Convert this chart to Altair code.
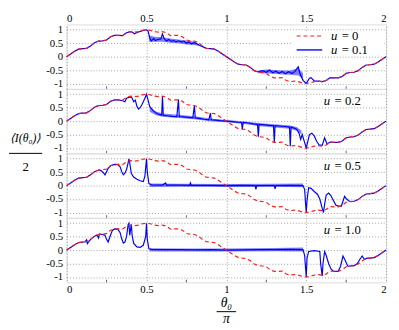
import altair as alt
import pandas as pd

# ---------------- data ----------------
red_theta = [round(i * 0.025, 3) for i in range(81)]
red_vals = [0.00, 0.10, 0.20, 0.28, 0.30, 0.31, 0.40, 0.52, 0.58, 0.59,
            0.62, 0.74, 0.79, 0.79, 0.78, 0.89, 0.93, 0.91, 0.93, 0.98,
            1.00, 0.98, 0.93, 0.91, 0.93, 0.89, 0.78, 0.79, 0.79, 0.74,
            0.62, 0.59, 0.58, 0.52, 0.40, 0.31, 0.30, 0.28, 0.20, 0.10,
            0.00, -0.10, -0.20, -0.28, -0.30, -0.31, -0.40, -0.52, -0.58, -0.59,
            -0.62, -0.74, -0.79, -0.79, -0.78, -0.89, -0.93, -0.91, -0.93, -0.98,
            -1.00, -0.98, -0.93, -0.91, -0.93, -0.89, -0.78, -0.79, -0.79, -0.74,
            -0.62, -0.59, -0.58, -0.52, -0.40, -0.31, -0.30, -0.28, -0.20, -0.10,
            0.00]

blue_u01 = [(0, 0), (0.025, 0.10), (0.05, 0.20), (0.075, 0.28), (0.1, 0.30), (0.125, 0.31),
            (0.15, 0.40), (0.175, 0.52), (0.2, 0.58), (0.225, 0.59), (0.25, 0.62), (0.275, 0.74),
            (0.3, 0.79), (0.325, 0.79), (0.35, 0.78), (0.375, 0.89), (0.4, 0.93), (0.41, 0.92),
            (0.425, 0.85), (0.435, 0.88), (0.45, 0.92), (0.475, 0.97), (0.5, 1.0), (0.51, 0.95),
            (0.52, 0.70), (0.53, 0.58), (0.545, 0.68), (0.555, 0.60), (0.57, 0.64), (0.59, 0.66),
            (0.6, 0.85), (0.61, 0.68), (0.625, 0.58), (0.64, 0.64), (0.655, 0.57), (0.67, 0.60),
            (0.685, 0.55), (0.7, 0.59), (0.72, 0.54), (0.735, 0.58), (0.75, 0.50), (0.765, 0.55),
            (0.78, 0.48), (0.8, 0.52), (0.82, 0.46), (0.84, 0.40), (0.875, 0.31),
            (0.9, 0.30), (0.925, 0.28), (0.95, 0.20), (0.975, 0.10), (1.0, 0.0), (1.025, -0.10),
            (1.05, -0.20), (1.075, -0.28), (1.1, -0.30), (1.125, -0.31), (1.15, -0.40),
            (1.175, -0.52), (1.2, -0.57), (1.225, -0.52), (1.25, -0.58), (1.27, -0.50),
            (1.29, -0.60), (1.31, -0.54), (1.33, -0.62), (1.35, -0.55), (1.37, -0.64),
            (1.39, -0.56), (1.41, -0.63), (1.43, -0.55), (1.44, -0.45), (1.45, -0.38),
            (1.46, -0.62), (1.48, -0.88), (1.5, -1.0), (1.52, -0.80),
            (1.53, -0.78), (1.55, -0.90), (1.575, -0.91), (1.6, -0.93), (1.625, -0.89),
            (1.65, -0.78), (1.675, -0.79), (1.7, -0.79), (1.725, -0.74), (1.75, -0.62),
            (1.775, -0.59), (1.8, -0.58), (1.825, -0.52), (1.85, -0.40), (1.875, -0.31),
            (1.9, -0.30), (1.925, -0.28), (1.95, -0.20), (1.975, -0.10), (2.0, 0.0)]

blue_u02 = [(0, 0), (0.025, 0.10), (0.05, 0.20), (0.075, 0.28), (0.1, 0.30), (0.125, 0.31),
            (0.15, 0.40), (0.175, 0.52), (0.2, 0.58), (0.225, 0.59), (0.25, 0.62), (0.275, 0.74),
            (0.3, 0.79), (0.325, 0.79), (0.35, 0.76), (0.365, 0.72), (0.375, 0.85), (0.4, 0.90),
            (0.41, 0.86), (0.42, 0.72), (0.43, 0.78), (0.44, 0.55), (0.45, 0.45), (0.46, 0.50),
            (0.47, 0.60), (0.48, 0.72), (0.49, 0.85), (0.5, 1.0), (0.51, 0.78), (0.52, 0.55),
            (0.54, 0.40), (0.56, 0.30), (0.58, 0.25), (0.595, 0.22), (0.6, 0.93), (0.605, 0.22),
            (0.63, 0.20), (0.66, 0.18), (0.69, 0.17), (0.7, 0.80), (0.705, 0.17), (0.73, 0.16),
            (0.76, 0.14), (0.79, 0.12), (0.8, 0.58), (0.805, 0.12), (0.83, 0.10), (0.86, 0.07),
            (0.89, 0.05), (0.9, 0.30), (0.905, 0.05), (0.93, 0.04), (0.96, 0.02), (1.0, 0.0),
            (1.04, -0.02), (1.07, -0.04), (1.095, -0.05), (1.1, -0.30), (1.105, -0.05),
            (1.14, -0.07), (1.17, -0.10), (1.195, -0.12), (1.2, -0.58), (1.205, -0.12),
            (1.24, -0.14), (1.27, -0.16), (1.295, -0.17), (1.3, -0.79), (1.305, -0.17),
            (1.33, -0.18), (1.37, -0.20), (1.395, -0.22), (1.4, -0.93), (1.405, -0.22),
            (1.42, -0.25), (1.44, -0.30), (1.455, -0.45), (1.465, -0.68), (1.475, -0.50),
            (1.49, -0.80), (1.5, -1.0), (1.51, -0.75), (1.52, -0.50), (1.535, -0.45),
            (1.55, -0.55), (1.565, -0.75), (1.58, -0.88), (1.6, -0.90), (1.615, -0.62),
            (1.63, -0.85), (1.65, -0.78), (1.675, -0.79), (1.7, -0.79), (1.725, -0.74),
            (1.75, -0.62), (1.775, -0.59), (1.8, -0.58), (1.825, -0.52), (1.85, -0.40),
            (1.875, -0.31), (1.9, -0.30), (1.925, -0.28), (1.95, -0.20), (1.975, -0.10), (2.0, 0.0)]

blue_u05 = [(0, 0), (0.025, 0.10), (0.05, 0.20), (0.075, 0.28), (0.1, 0.30), (0.125, 0.31),
            (0.15, 0.40), (0.175, 0.52), (0.2, 0.58), (0.215, 0.56), (0.23, 0.48), (0.24, 0.40),
            (0.25, 0.52), (0.26, 0.64), (0.275, 0.74), (0.3, 0.79), (0.32, 0.78), (0.335, 0.70),
            (0.345, 0.52), (0.355, 0.40), (0.365, 0.46), (0.375, 0.60), (0.385, 0.85), (0.39, 1.0),
            (0.395, 0.85), (0.405, 0.45), (0.42, 0.32), (0.44, 0.24), (0.46, 0.18), (0.48, 0.15),
            (0.49, 0.35), (0.5, 1.0), (0.505, 0.5), (0.515, 0.08), (0.53, 0.03), (0.6, 0.02),
            (0.62, 0.10), (0.625, 0.02), (0.7, 0.02), (0.77, 0.01), (0.775, 0.10), (0.78, 0.01),
            (0.9, 0.01), (1.0, 0.0), (1.1, 0.01), (1.18, 0.0), (1.185, -0.14), (1.19, 0.0),
            (1.3, 0.0), (1.305, -0.12), (1.31, 0.0), (1.4, 0.01), (1.48, 0.0), (1.49, -0.15),
            (1.495, -0.6), (1.5, -1.0), (1.505, -0.55), (1.515, -0.08), (1.53, -0.10),
            (1.55, -0.22), (1.57, -0.32), (1.585, -0.5), (1.6, -0.85), (1.608, -1.0),
            (1.615, -0.7), (1.625, -0.35), (1.64, -0.28), (1.655, -0.38), (1.67, -0.55),
            (1.685, -0.72), (1.7, -0.76), (1.72, -0.76), (1.73, -0.58), (1.74, -0.40),
            (1.75, -0.48), (1.765, -0.56), (1.78, -0.60), (1.8, -0.58), (1.825, -0.52),
            (1.85, -0.40), (1.875, -0.31), (1.9, -0.30), (1.925, -0.28), (1.95, -0.20),
            (1.975, -0.10), (2.0, 0.0)]

blue_u10 = [(0, 0), (0.025, 0.10), (0.05, 0.20), (0.075, 0.28), (0.1, 0.30), (0.115, 0.31),
            (0.125, 0.38), (0.13, 0.24), (0.14, 0.32), (0.15, 0.40), (0.175, 0.52), (0.19, 0.56),
            (0.2, 0.45), (0.205, 0.60), (0.225, 0.58), (0.24, 0.55), (0.25, 0.40), (0.26, 0.30),
            (0.27, 0.48), (0.285, 0.72), (0.3, 0.79), (0.32, 0.78), (0.335, 0.65), (0.345, 0.42),
            (0.355, 0.26), (0.365, 0.30), (0.375, 0.50), (0.385, 0.95), (0.39, 1.0), (0.395, 0.55),
            (0.405, 0.96), (0.41, 0.55), (0.42, 0.25), (0.44, 0.12), (0.46, 0.10), (0.48, 0.18),
            (0.495, 0.50), (0.5, 1.0), (0.505, 0.40), (0.515, 0.05), (0.53, 0.03), (0.6, 0.02),
            (0.7, 0.02), (0.8, 0.01), (0.9, 0.02), (1.0, 0.0), (1.1, 0.01), (1.2, 0.02),
            (1.3, 0.02), (1.4, 0.03), (1.48, 0.02), (1.49, -0.2), (1.5, -1.0), (1.505, -0.3),
            (1.515, -0.05), (1.55, -0.02), (1.585, -0.05), (1.59, -0.5), (1.6, -0.96),
            (1.605, -0.5), (1.615, -0.06), (1.625, -0.2), (1.64, -0.5), (1.655, -0.70),
            (1.67, -0.78), (1.7, -0.79), (1.715, -0.60), (1.73, -0.22), (1.745, -0.40),
            (1.76, -0.60), (1.8, -0.58), (1.82, -0.50), (1.835, -0.35), (1.85, -0.22),
            (1.865, -0.35), (1.88, -0.30), (1.9, -0.30), (1.925, -0.28), (1.95, -0.20),
            (1.975, -0.10), (2.0, 0.0)]

# noise envelopes of the blue curves: (segment, theta, low, high)
noise_u01 = [(1, 0.515, 0.55, 0.80), (1, 0.55, 0.55, 0.74), (1, 0.6, 0.55, 0.72),
             (1, 0.65, 0.52, 0.68), (1, 0.7, 0.50, 0.64), (1, 0.75, 0.45, 0.60),
             (1, 0.8, 0.43, 0.56), (1, 0.83, 0.40, 0.46),
             (2, 1.2, -0.62, -0.52), (2, 1.25, -0.63, -0.48), (2, 1.3, -0.64, -0.50),
             (2, 1.35, -0.66, -0.52), (2, 1.4, -0.67, -0.52), (2, 1.45, -0.70, -0.42),
             (2, 1.48, -0.82, -0.62)]
noise_u02 = [(1, 0.52, 0.35, 0.52), (1, 0.56, 0.22, 0.36), (1, 0.6, 0.16, 0.28),
             (1, 0.7, 0.12, 0.24), (1, 0.8, 0.07, 0.18), (1, 0.9, 0.0, 0.10),
             (1, 1.0, -0.04, 0.04), (1, 1.1, -0.10, 0.0), (1, 1.2, -0.18, -0.07),
             (1, 1.3, -0.24, -0.12), (1, 1.4, -0.28, -0.16), (1, 1.44, -0.36, -0.22),
             (1, 1.47, -0.50, -0.35)]
noise_u05 = [(1, 0.52, -0.05, 0.08), (1, 0.7, -0.04, 0.07), (1, 1.0, -0.05, 0.06),
             (1, 1.3, -0.04, 0.07), (1, 1.48, -0.06, 0.08)]
noise_u10 = [(1, 0.52, -0.05, 0.07), (1, 0.7, -0.05, 0.06), (1, 1.0, -0.05, 0.06),
             (1, 1.3, -0.04, 0.08), (1, 1.48, -0.05, 0.10)]

u_labels = ["0.1", "0.2", "0.5", "1.0"]
x_ticks = [0, 0.5, 1, 1.5, 2]
y_ticks = [-1, -0.5, 0, 0.5, 1]
minor_ticks = [0.25, 0.75, 1.25, 1.75]

# ---------------- chart ----------------
W, H = 327, 66
FONT = "Liberation Serif"
RED, BLUE = "#ff1a1a", "#0000ff"
xs = alt.Scale(domain=[0, 2], nice=False, zero=False)
ys = alt.Scale(domain=[-1.2, 1.2], nice=False, zero=False)
red_df = pd.DataFrame({"t": red_theta, "v": red_vals})


def xaxis(orient, labels):
    return alt.Axis(orient=orient, values=x_ticks, labels=labels, labelExpr="datum.value",
                    grid=True, gridDash=[1, 2], gridColor="#888888", gridWidth=0.8,
                    ticks=False, domain=False, title=None, labelPadding=1,
                    labelFontSize=11, labelFont=FONT, labelColor="#000")


yaxis = alt.Axis(values=y_ticks, labelExpr="datum.value", grid=True, gridDash=[1, 2],
                 gridColor="#888888", gridWidth=0.8, ticks=False, domain=False, title=None,
                 labelPadding=4, labelFontSize=11, labelFont=FONT, labelColor="#000")


def panel(i, blue, noise):
    orient = "top" if i == 0 else "bottom"
    xa = xaxis(orient, i in (0, 3))
    X = lambda f: alt.X(f, type="quantitative", scale=xs, axis=xa)
    Y = lambda f: alt.Y(f, type="quantitative", scale=ys, axis=yaxis)

    bdf = pd.DataFrame(blue, columns=["t", "v"])
    ndf = pd.DataFrame(noise, columns=["seg", "t", "lo", "hi"])
    layers = []
    layers.append(alt.Chart(ndf).mark_area(color=BLUE, opacity=0.5).encode(
        x=X("t"), y=Y("lo"), y2="hi", detail="seg:N"))
    layers.append(alt.Chart(bdf).mark_line(color=BLUE, strokeWidth=1.2).encode(
        x=X("t"), y=Y("v")))
    layers.append(alt.Chart(red_df).mark_line(color=RED, strokeWidth=1.2, strokeDash=[4, 3]).encode(
        x=X("t"), y=Y("v")))
    tdf = pd.DataFrame({"t": minor_ticks, "y0": -1.2, "y1": -1.1})
    layers.append(alt.Chart(tdf).mark_rule(color="#5a66c8" if i < 3 else "#555", strokeWidth=1).encode(
        x=X("t"), y=Y("y0"), y2="y1"))

    if i == 0:
        box = pd.DataFrame({"x0": [1.41], "x1": [1.985], "y0": [0.06], "y1": [0.95]})
        layers.append(alt.Chart(box).mark_rect(fill="white").encode(
            x=X("x0"), x2="x1", y=Y("y0"), y2="y1"))
        leg = pd.DataFrame({"x0": [1.44, 1.44], "x1": [1.6, 1.6], "y": [0.77, 0.25],
                            "lab": ["= 0", "= 0.1"]})
        layers.append(alt.Chart(leg.iloc[[0]]).mark_rule(color=RED, strokeWidth=1.2, strokeDash=[4, 3]).encode(
            x=X("x0"), x2="x1", y=Y("y")))
        layers.append(alt.Chart(leg.iloc[[1]]).mark_rule(color=BLUE, strokeWidth=1.4).encode(
            x=X("x0"), x2="x1", y=Y("y")))
        layers.append(alt.Chart(leg).mark_text(font=FONT, fontSize=13, fontStyle="italic",
                                               align="left", baseline="middle").encode(
            x=X("x0"), y=Y("y"), text=alt.value("u")).transform_calculate(x0="1.655"))
        layers.append(alt.Chart(leg).mark_text(font=FONT, fontSize=13, align="left",
                                               baseline="middle", dx=11).encode(
            x=X("x0"), y=Y("y"), text="lab:N").transform_calculate(x0="1.655"))
    else:
        lab = pd.DataFrame({"t": [1.61], "v": [0.74], "s": ["= " + u_labels[i]]})
        layers.append(alt.Chart(lab).mark_text(font=FONT, fontSize=13, fontStyle="italic",
                                               align="left", baseline="middle").encode(
            x=X("t"), y=Y("v"), text=alt.value("u")))
        layers.append(alt.Chart(lab).mark_text(font=FONT, fontSize=13, align="left",
                                               baseline="middle", dx=11).encode(
            x=X("t"), y=Y("v"), text="s:N"))

    if i == 1:
        tt = pd.DataFrame({"s": ["\u27e8I(\u03b8\u2080)\u27e9"], "d": ["2"]})
        layers.append(alt.Chart(tt).mark_text(font=FONT, fontSize=12, fontStyle="italic").encode(
            x=alt.value(-42), y=alt.value(H - 16), text="s:N"))
        layers.append(alt.Chart(tt).mark_rule(color="#000", strokeWidth=1).encode(
            x=alt.value(-59), x2=alt.value(-25), y=alt.value(H)))
        layers.append(alt.Chart(tt).mark_text(font=FONT, fontSize=13).encode(
            x=alt.value(-42), y=alt.value(H + 14), text="d:N"))
    if i == 3:
        tt = pd.DataFrame({"s": ["\u03b8\u2080"], "d": ["\u03c0"]})
        layers.append(alt.Chart(tt).mark_text(font=FONT, fontSize=14, fontStyle="italic").encode(
            x=alt.value(W / 2), y=alt.value(H + 21), text="s:N"))
        layers.append(alt.Chart(tt).mark_rule(color="#000", strokeWidth=1).encode(
            x=alt.value(W / 2 - 10), x2=alt.value(W / 2 + 10), y=alt.value(H + 30)))
        layers.append(alt.Chart(tt).mark_text(font=FONT, fontSize=14, fontStyle="italic").encode(
            x=alt.value(W / 2), y=alt.value(H + 38), text="d:N"))

    return alt.layer(*layers).properties(width=W, height=H)


panels = [panel(0, blue_u01, noise_u01), panel(1, blue_u02, noise_u02),
          panel(2, blue_u05, noise_u05), panel(3, blue_u10, noise_u10)]

chart = alt.vconcat(*panels, spacing=0, bounds="flush").properties(
    padding={"left": 0, "top": 0, "right": 2, "bottom": 0}
).configure_view(stroke="#333333", strokeWidth=1.5).configure(font=FONT)

chart.save("out.html", embed_options={"renderer": "svg", "actions": False})
